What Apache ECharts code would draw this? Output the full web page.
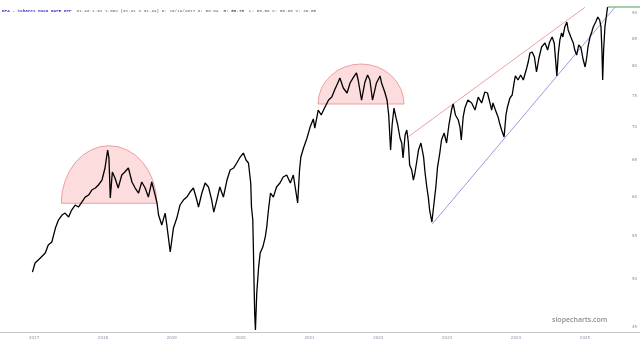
<!DOCTYPE html>
<html>
<head>
<meta charset="utf-8">
<title>EFA - iShares MSCI EAFE ETF</title>
<script src="https://cdn.jsdelivr.net/npm/echarts@6/dist/echarts.min.js"></script>
<style>
  html, body { margin: 0; padding: 0; background: #fff; }
  #main { width: 640px; height: 344px; }
</style>
</head>
<body>
<div id="main"></div>
<script>
// EFA closes (log price scale)
const dates = [
  '2016-12-23','2017-01-06','2017-02-03','2017-03-01','2017-03-17','2017-04-05','2017-04-24','2017-05-10','2017-05-29','2017-06-14',
  '2017-07-03','2017-07-19','2017-08-07','2017-08-24','2017-09-11','2017-09-29','2017-10-17','2017-11-03','2017-11-22','2017-12-08',
  '2017-12-27','2018-01-12','2018-01-26','2018-02-02','2018-02-09','2018-02-20','2018-03-06','2018-03-23','2018-04-11','2018-04-27',
  '2018-05-16','2018-06-04','2018-06-21','2018-07-09','2018-07-26','2018-08-13','2018-08-30','2018-09-17','2018-10-05','2018-10-15',
  '2018-10-23','2018-11-09','2018-11-27','2018-12-06','2018-12-24','2019-01-10','2019-01-28','2019-02-14','2019-03-04','2019-03-22',
  '2019-04-08','2019-04-26','2019-05-14','2019-05-23','2019-06-10','2019-06-27','2019-07-15','2019-08-01','2019-08-12','2019-08-28',
  '2019-09-13','2019-10-02','2019-10-21','2019-11-07','2019-11-25','2019-12-12','2019-12-30','2020-01-16','2020-01-30','2020-02-12',
  '2020-02-24','2020-02-28','2020-03-06','2020-03-09','2020-03-12','2020-03-16','2020-03-20','2020-03-27','2020-04-06','2020-04-14',
  '2020-04-28','2020-05-11','2020-05-19','2020-05-28','2020-06-08','2020-06-23','2020-07-10','2020-07-28','2020-08-14','2020-09-02',
  '2020-09-21','2020-10-07','2020-10-30','2020-11-09','2020-11-16','2020-11-30','2020-12-17','2021-01-04','2021-01-21','2021-01-29',
  '2021-02-16','2021-03-04','2021-03-24','2021-04-12','2021-04-29','2021-05-14','2021-06-02','2021-06-11','2021-06-29','2021-07-19',
  '2021-08-04','2021-08-20','2021-09-07','2021-09-16','2021-10-04','2021-10-22','2021-11-05','2021-11-17','2021-12-01','2021-12-22',
  '2022-01-10','2022-01-18','2022-02-04','2022-02-16','2022-02-25','2022-03-07','2022-03-15','2022-03-25','2022-04-05','2022-04-14',
  '2022-04-26','2022-05-05','2022-05-12','2022-05-23','2022-06-01','2022-06-09','2022-06-16','2022-06-27','2022-07-06','2022-07-14',
  '2022-07-25','2022-08-02','2022-08-15','2022-08-29','2022-09-06','2022-09-15','2022-09-23','2022-09-30','2022-10-12','2022-10-21',
  '2022-11-02','2022-11-11','2022-11-23','2022-12-02','2022-12-16','2022-12-29','2023-01-11','2023-01-25','2023-02-02','2023-02-14',
  '2023-03-01','2023-03-10','2023-03-17','2023-03-27','2023-04-05','2023-04-21','2023-05-11','2023-05-29','2023-06-15','2023-07-03',
  '2023-07-20','2023-08-03','2023-08-16','2023-08-25','2023-09-01','2023-09-14','2023-09-28','2023-10-06','2023-10-17','2023-10-30',
  '2023-11-09','2023-11-17','2023-11-30','2023-12-12','2023-12-22','2023-12-29','2024-01-12','2024-01-26','2024-02-09','2024-02-27',
  '2024-03-06','2024-03-15','2024-03-27','2024-04-08','2024-04-19','2024-05-02','2024-05-16','2024-06-03','2024-06-17','2024-06-28',
  '2024-07-11','2024-07-22','2024-08-05','2024-08-13','2024-08-21','2024-08-30','2024-09-06','2024-09-16','2024-09-27','2024-10-04',
  '2024-10-18','2024-10-31','2024-11-08','2024-11-18','2024-11-29','2024-12-11','2024-12-23','2025-01-02','2025-01-10','2025-01-17',
  '2025-01-28','2025-02-06','2025-02-14','2025-02-27','2025-03-10','2025-03-20','2025-03-27','2025-04-01','2025-04-05','2025-04-10',
  '2025-04-17','2025-04-24','2025-05-01'
];
const closes = [
  50.80,51.83,52.40,52.98,53.93,54.29,55.99,56.99,57.62,57.87,
  57.37,58.26,58.91,58.65,59.30,59.95,60.22,60.89,61.16,61.57,
  62.25,63.92,66.51,65.35,59.82,63.36,62.53,61.16,62.94,63.36,
  63.92,61.98,61.16,60.49,61.98,61.16,59.95,61.98,60.22,59.17,
  57.62,56.36,57.87,56.36,53.11,55.99,57.24,58.91,59.56,59.95,
  60.62,61.16,59.56,58.65,60.49,61.84,61.30,59.56,58.00,59.56,
  61.30,59.95,62.25,63.64,63.92,64.63,65.49,66.07,65.06,64.63,
  61.84,58.65,56.99,53.69,50.25,46.41,44.70,48.51,51.37,52.98,
  53.69,54.89,56.11,58.26,60.49,59.95,61.30,61.84,62.66,62.94,
  61.84,62.94,59.17,63.64,65.49,66.81,68.15,69.97,71.23,69.82,
  72.65,71.86,73.14,74.27,74.76,75.93,77.29,77.98,76.27,75.43,
  77.12,77.98,78.84,77.63,74.27,77.29,78.49,77.63,74.27,77.12,
  78.32,77.12,75.60,74.27,71.86,66.51,70.29,72.97,71.39,70.29,
  68.30,67.55,65.35,68.75,69.52,67.70,64.35,63.64,62.25,63.22,
  65.06,66.51,67.55,65.49,63.22,61.30,59.95,58.26,56.74,58.65,
  61.30,64.06,66.07,68.00,69.06,67.55,70.44,72.81,73.63,71.86,
  71.07,69.97,68.00,71.55,72.97,74.27,73.79,72.65,74.76,73.79,
  75.60,75.43,73.79,72.65,73.79,72.65,71.55,70.60,69.52,68.45,
  71.86,73.14,74.60,75.10,77.12,78.32,77.63,78.49,77.63,79.71,
  80.77,82.39,82.57,81.67,79.01,81.49,83.50,84.25,82.94,84.43,
  85.37,84.25,78.32,82.39,84.80,86.12,85.37,87.27,88.23,86.69,
  85.37,84.25,82.94,82.03,83.87,83.31,81.13,79.89,81.49,83.50,
  85.37,86.31,87.27,88.23,89.21,88.62,87.27,82.94,77.63,82.94,
  87.27,89.21,91.20
];
const priceTicks = [45, 50, 55, 60, 65, 70, 75, 80, 85, 90];
const yearTicks = ['2017-01-01','2018-01-01','2019-01-01','2020-01-01','2021-01-01','2022-01-01','2023-01-01','2024-01-01','2025-01-01'];

// drawn annotations: rounded tops [from, to, base price, top price]
const domes = [
  ['2017-05-25', '2018-10-14', 59.13, 67.15],
  ['2021-02-15', '2022-05-17', 73.62, 80.42]
];
const upperLine = [['2022-06-09', 68.49], ['2025-01-01', 91.14]];
const lowerLine = [['2022-10-14', 56.49], ['2025-06-09', 91.14]];
const axisStart = '2016-07-04';
const axisEnd = '2025-10-20';

const lastDate = dates[dates.length - 1];
const lastPrice = closes[closes.length - 1];
const ln = Math.log;
const ts = s => new Date(s + 'T00:00:00').getTime();

const chart = echarts.init(document.getElementById('main'));

chart.setOption({
  animation: false,
  backgroundColor: '#fff',
  title: [
    {
      left: 2,
      top: 2,
      padding: 0,
      text: '{n|EFA - iShares MSCI EAFE ETF} {q|' + lastPrice.toFixed(2) +
        ' 1.61 1.66% (91.21 x 91.22) D: 10/12/2017 O: 58.64} {b|H: 58.78} {q|L: 58.50 C: 58.68 V: 30.55}',
      textStyle: {
        rich: {
          n: { fontFamily: 'Liberation Mono', fontSize: 4.3, color: '#3535c8' },
          q: { fontFamily: 'Liberation Mono', fontSize: 4.3, color: '#8a8a8a' },
          b: { fontFamily: 'Liberation Mono', fontSize: 4.3, color: '#555', fontWeight: 'bold' }
        }
      }
    },
    {
      text: 'slopecharts.com',
      left: 552,
      top: 316,
      padding: 0,
      textStyle: { fontFamily: 'Open Sans', fontSize: 7, fontWeight: 600, color: '#8e8e8e' }
    }
  ],
  grid: { left: 0, right: 0, top: 0, bottom: 12 },
  xAxis: {
    type: 'value',
    min: ts(axisStart),
    max: ts(axisEnd),
    axisLine: { lineStyle: { color: '#c4c4c4', width: 1 } },
    axisTick: { show: false },
    splitLine: { show: false },
    axisLabel: {
      customValues: yearTicks.map(ts),
      fontFamily: 'DejaVu Sans',
      fontSize: 4,
      color: '#8d8daa',
      margin: 4,
      formatter: v => String(new Date(v).getFullYear())
    }
  },
  yAxis: {
    type: 'value',
    position: 'right',
    min: ln(44.51),
    max: ln(92.62),
    axisLine: { show: false },
    axisTick: { show: false },
    splitLine: { show: false },
    axisLabel: {
      inside: true,
      margin: 3,
      customValues: priceTicks.map(ln),
      fontFamily: 'DejaVu Sans',
      fontSize: 4,
      color: '#8a8a8a',
      formatter: v => String(Math.round(Math.exp(v)))
    }
  },
  series: [
    {
      type: 'custom',
      silent: true,
      z: 1,
      encode: { x: [0, 1], y: [2, 3] },
      data: domes.map(d => [ts(d[0]), ts(d[1]), ln(d[2]), ln(d[3])]),
      renderItem: function (params, api) {
        const a = api.coord([api.value(0), api.value(2)]);
        const b = api.coord([api.value(1), api.value(3)]);
        const rx = (b[0] - a[0]) / 2;
        const ry = a[1] - b[1];
        return {
          type: 'path',
          shape: {
            pathData: 'M' + a[0] + ' ' + a[1] + ' A' + rx + ' ' + ry + ' 0 0 1 ' + b[0] + ' ' + a[1] + ' Z'
          },
          style: { fill: 'rgba(240,80,80,0.2)', stroke: '#e58080', lineWidth: 0.7 }
        };
      }
    },
    {
      type: 'line',
      name: 'upper',
      silent: true,
      z: 2,
      symbol: 'none',
      lineStyle: { color: '#e07a7a', width: 0.7 },
      data: upperLine.map(p => [ts(p[0]), ln(p[1])])
    },
    {
      type: 'line',
      name: 'lower',
      silent: true,
      z: 2,
      symbol: 'none',
      lineStyle: { color: '#6f6fd6', width: 0.7 },
      data: lowerLine.map(p => [ts(p[0]), ln(p[1])])
    },
    {
      type: 'line',
      name: 'EFA',
      z: 3,
      symbol: 'none',
      lineStyle: { color: '#000', width: 1.3 },
      data: dates.map((d, i) => [ts(d), ln(closes[i])])
    },
    {
      type: 'line',
      name: 'last',
      silent: true,
      z: 4,
      symbol: 'none',
      lineStyle: { color: '#4c9f4c', width: 1.2 },
      data: [[ts(lastDate), ln(lastPrice)], [ts(axisEnd), ln(lastPrice)]]
    }
  ]
});
</script>
</body>
</html>
